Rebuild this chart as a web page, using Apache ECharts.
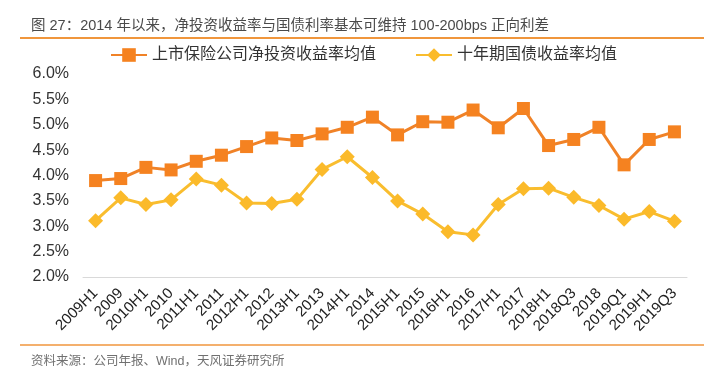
<!DOCTYPE html>
<html><head><meta charset="utf-8">
<script src="https://cdn.jsdelivr.net/npm/echarts@6/dist/echarts.min.js"></script>
<style>html,body{margin:0;padding:0;background:#fff;}#c{width:720px;height:380px;}</style>
</head><body><div id="c"></div>
<script>
const categories = ['2009H1','2009','2010H1','2010','2011H1','2011','2012H1','2012','2013H1','2013','2014H1','2014','2015H1','2015','2016H1','2016','2017H1','2017','2018H1','2018Q3','2018','2019Q1','2019H1','2019Q3'];
const insurerYield = [3.90,3.94,4.16,4.11,4.28,4.40,4.57,4.74,4.69,4.82,4.95,5.15,4.80,5.06,5.05,5.29,4.94,5.32,4.59,4.71,4.95,4.21,4.71,4.86];
const bondYield = [3.11,3.56,3.43,3.52,3.93,3.81,3.46,3.45,3.53,4.12,4.37,3.96,3.50,3.24,2.89,2.83,3.43,3.74,3.75,3.57,3.41,3.14,3.29,3.10];
const seriesNames = ['上市保险公司净投资收益率均值','十年期国债收益率均值'];
const titleText = '图 27：2014 年以来，净投资收益率与国债利率基本可维持 100-200bps 正向利差';
const sourceText = '资料来源：公司年报、Wind，天风证券研究所';

const chart = echarts.init(document.getElementById('c'), null, {renderer:'canvas'});
const font = 'Liberation Sans, Arial, "Noto Sans CJK SC", sans-serif';
chart.setOption({
  animation:false,
  textStyle:{fontFamily:font},
  title:[{text:titleText,left:31,top:19,padding:0,textStyle:{fontSize:14.5,fontWeight:'normal',color:'#4a4a4a',fontFamily:font}},
         {text:sourceText,left:31,top:355,padding:0,textStyle:{fontSize:12.5,fontWeight:'normal',color:'#707070',fontFamily:font}}],
  graphic:[
    {type:'line',shape:{x1:20,y1:38,x2:704,y2:38},style:{stroke:'#F0963C',lineWidth:2}},
    {type:'line',shape:{x1:20,y1:345,x2:704,y2:345},style:{stroke:'#F0963C',lineWidth:1.5}}
  ],
  legend:{top:47,left:110,padding:0,itemGap:39,itemWidth:36,itemHeight:17,
    textStyle:{fontSize:16,color:'#333',padding:[0,0,0,0]},
    data:[seriesNames[0],seriesNames[1]]},
  grid:{left:83,right:33,top:74,bottom:103},
  xAxis:{type:'category',data:categories,boundaryGap:true,
    axisLine:{lineStyle:{color:'#d9d9d9',width:1}},axisTick:{show:false},
    axisLabel:{rotate:45,fontSize:15,color:'#222',margin:14,interval:0}},
  yAxis:{type:'value',min:2,max:6,interval:0.5,
    axisLine:{show:false},axisTick:{show:false},splitLine:{show:false},
    axisLabel:{fontSize:16,color:'#333',margin:14,formatter:v=>v.toFixed(1)+'%'}},
  series:[
    {name:seriesNames[0],type:'line',data:insurerYield,symbol:'rect',symbolSize:13,
     lineStyle:{color:'#F08227',width:3},itemStyle:{color:'#F58220'}},
    {name:seriesNames[1],type:'line',data:bondYield,symbol:'diamond',symbolSize:15,
     lineStyle:{color:'#F9BD2E',width:3},itemStyle:{color:'#FBBA2A'}}
  ]
});
</script></body></html>
